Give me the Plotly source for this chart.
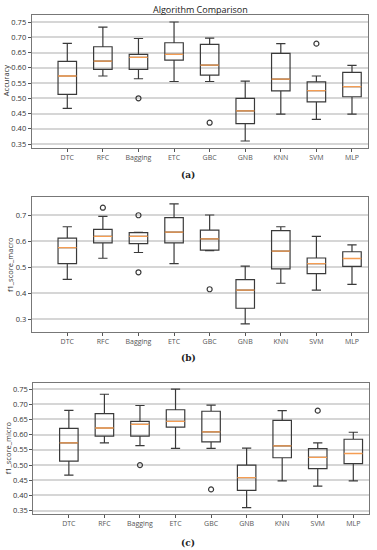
import plotly.graph_objects as go

# ---------------- data ----------------
algorithms = ["DTC", "RFC", "Bagging", "ETC", "GBC", "GNB", "KNN", "SVM", "MLP"]

# (a) Accuracy
acc_lo  = [0.467, 0.573, 0.564, 0.555, 0.555, 0.360, 0.448, 0.431, 0.448]
acc_q1  = [0.513, 0.595, 0.595, 0.625, 0.576, 0.417, 0.524, 0.488, 0.505]
acc_med = [0.573, 0.622, 0.634, 0.644, 0.609, 0.459, 0.563, 0.525, 0.538]
acc_q3  = [0.621, 0.669, 0.644, 0.682, 0.677, 0.500, 0.647, 0.554, 0.585]
acc_hi  = [0.680, 0.733, 0.696, 0.750, 0.697, 0.556, 0.679, 0.573, 0.608]
acc_out_alg = ["Bagging", "GBC", "SVM"]
acc_out_val = [0.500, 0.420, 0.679]

# (b) f1_score_macro
mac_lo  = [0.453, 0.534, 0.556, 0.513, 0.563, 0.282, 0.438, 0.412, 0.434]
mac_q1  = [0.513, 0.593, 0.590, 0.593, 0.565, 0.342, 0.493, 0.475, 0.503]
mac_med = [0.575, 0.618, 0.618, 0.634, 0.608, 0.412, 0.561, 0.513, 0.533]
mac_q3  = [0.611, 0.645, 0.632, 0.690, 0.642, 0.452, 0.640, 0.535, 0.559]
mac_hi  = [0.655, 0.695, 0.633, 0.743, 0.700, 0.504, 0.655, 0.618, 0.585]
mac_out_alg = ["RFC", "Bagging", "Bagging", "GBC"]
mac_out_val = [0.728, 0.699, 0.480, 0.415]

# (c) f1_score_micro
mic_lo  = [0.467, 0.573, 0.564, 0.555, 0.555, 0.360, 0.448, 0.431, 0.448]
mic_q1  = [0.513, 0.595, 0.595, 0.625, 0.576, 0.417, 0.524, 0.488, 0.505]
mic_med = [0.573, 0.622, 0.634, 0.644, 0.609, 0.459, 0.563, 0.525, 0.538]
mic_q3  = [0.621, 0.669, 0.644, 0.682, 0.677, 0.500, 0.647, 0.554, 0.585]
mic_hi  = [0.680, 0.733, 0.696, 0.750, 0.697, 0.556, 0.679, 0.573, 0.608]
mic_out_alg = ["Bagging", "GBC", "SVM"]
mic_out_val = [0.500, 0.420, 0.679]

y_titles = ["Accuracy", "f1_score_macro", "f1_score_micro"]
captions = ["(a)", "(b)", "(c)"]

# ---------------- styling ----------------
W, H = 377, 550
BOX_COLOR = "#3a3a3a"
MED_COLOR = "#f59d52"
GRID_COLOR = "#d6d6d6"
FONT = "Open Sans"

panels = [
    dict(lo=acc_lo, q1=acc_q1, med=acc_med, q3=acc_q3, hi=acc_hi,
         oa=acc_out_alg, ov=acc_out_val,
         xdom=(31.7, 368.0), ytop=14.7, ybot=147.7,
         yrange=(0.338, 0.774), dtick=0.05, fmt=".2f", ytx=6, cap_y=175),
    dict(lo=mac_lo, q1=mac_q1, med=mac_med, q3=mac_q3, hi=mac_hi,
         oa=mac_out_alg, ov=mac_out_val,
         xdom=(31.7, 368.0), ytop=197.3, ybot=331.7,
         yrange=(0.252, 0.768), dtick=0.1, fmt=".1f", ytx=9.5, cap_y=358),
    dict(lo=mic_lo, q1=mic_q1, med=mic_med, q3=mic_q3, hi=mic_hi,
         oa=mic_out_alg, ov=mic_out_val,
         xdom=(33.3, 369.3), ytop=382.7, ybot=514.0,
         yrange=(0.339, 0.771), dtick=0.05, fmt=".2f", ytx=8, cap_y=542.5),
]

fig = go.Figure()
layout = dict(
    width=W, height=H,
    margin=dict(l=0, r=0, t=0, b=0),
    paper_bgcolor="white", plot_bgcolor="white",
    showlegend=False, boxmode="overlay",
    font=dict(family=FONT, size=8, color="#333"),
)
annotations = []

for i, p in enumerate(panels):
    n = "" if i == 0 else str(i + 1)
    xa, ya = "x" + n, "y" + n
    # main boxes
    fig.add_trace(go.Box(
        x=algorithms, q1=p["q1"], median=p["med"], q3=p["q3"],
        lowerfence=p["lo"], upperfence=p["hi"],
        width=0.52, whiskerwidth=0.5, boxpoints=False,
        line=dict(color=BOX_COLOR, width=1.2), fillcolor="rgba(0,0,0,0)",
        xaxis=xa, yaxis=ya, hoverinfo="skip",
    ))
    # orange median lines (zero-height boxes at the median)
    fig.add_trace(go.Box(
        x=algorithms, q1=p["med"], median=p["med"], q3=p["med"],
        lowerfence=p["med"], upperfence=p["med"],
        width=0.52, whiskerwidth=1, boxpoints=False,
        line=dict(color=MED_COLOR, width=1.3), fillcolor="rgba(0,0,0,0)",
        xaxis=xa, yaxis=ya, hoverinfo="skip",
    ))
    # outliers
    fig.add_trace(go.Scatter(
        x=p["oa"], y=p["ov"], mode="markers",
        marker=dict(symbol="circle-open", size=5, color=BOX_COLOR,
                    line=dict(width=1.2, color=BOX_COLOR)),
        xaxis=xa, yaxis=ya, hoverinfo="skip",
    ))
    x0, x1 = p["xdom"]
    layout["xaxis" + n] = dict(
        domain=[x0 / W, x1 / W], anchor=ya,
        type="category", categoryorder="array", categoryarray=algorithms,
        range=[-1.0, 8.45],
        showgrid=False, zeroline=False,
        showline=True, linecolor="#777", linewidth=1, mirror=True,
        ticks="outside", ticklen=3, tickcolor="#555",
        tickfont=dict(size=7, color="#555", family=FONT),
    )
    layout["yaxis" + n] = dict(
        domain=[1 - p["ybot"] / H, 1 - p["ytop"] / H], anchor=xa,
        range=list(p["yrange"]), dtick=p["dtick"], tickformat=p["fmt"],
        showgrid=True, gridcolor=GRID_COLOR, gridwidth=1.5,
        zeroline=False,
        showline=True, linecolor="#777", linewidth=1, mirror=True,
        ticks="outside", ticklen=3, tickcolor="#555",
        tickfont=dict(size=7.5, color="#333", family=FONT),
    )
    annotations.append(dict(
        text=y_titles[i], textangle=-90, showarrow=False,
        xref="paper", yref="paper",
        x=p["ytx"] / W, y=1 - (p["ytop"] + p["ybot"]) / 2 / H,
        xanchor="center", yanchor="middle",
        font=dict(size=7.5, color="#333", family=FONT),
    ))
    annotations.append(dict(
        text="<b>" + captions[i] + "</b>", showarrow=False,
        xref="paper", yref="paper",
        x=188 / W, y=1 - p["cap_y"] / H,
        xanchor="center", yanchor="middle",
        font=dict(size=9, color="#222", family="DejaVu Serif"),
    ))

annotations.append(dict(
    text="Algorithm Comparison", showarrow=False,
    xref="paper", yref="paper", x=200 / W, y=1 - 9.5 / H,
    xanchor="center", yanchor="middle",
    font=dict(size=9, color="#222", family=FONT),
))
layout["annotations"] = annotations
fig.update_layout(**layout)
fig.write_html(
    "out.html",
    config={"displayModeBar": False},
    post_script="document.body.style.margin='0';document.body.style.padding='0';",
)
